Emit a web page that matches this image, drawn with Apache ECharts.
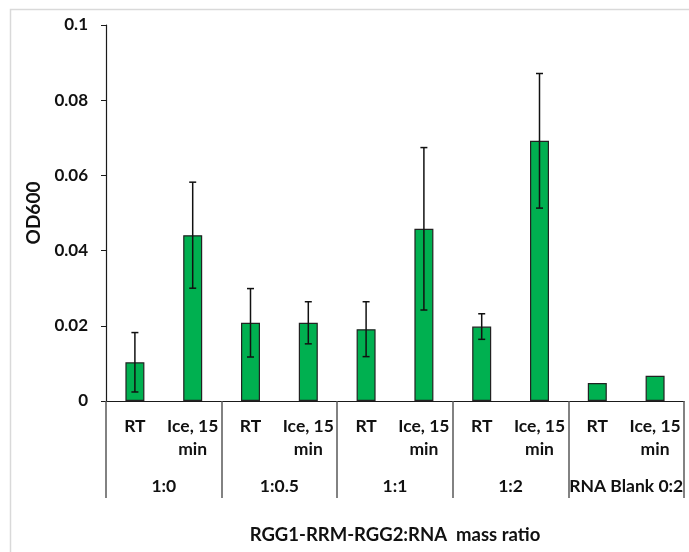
<!DOCTYPE html>
<html>
<head>
<meta charset="utf-8">
<style>
  html, body { margin: 0; padding: 0; background: #fff; }
  #chart { width: 689px; height: 552px; }
</style>
<script src="https://cdn.jsdelivr.net/npm/echarts@6/dist/echarts.min.js"></script>
</head>
<body>
<div id="chart"></div>
<script>
// Condition labels (one per bar) and the ratio groups they belong to
const conditions = ['RT', 'Ice, 15\nmin', 'RT', 'Ice, 15\nmin', 'RT', 'Ice, 15\nmin', 'RT', 'Ice, 15\nmin', 'RT', 'Ice, 15\nmin'];
const groups = ['1:0', '1:0.5', '1:1', '1:2', 'RNA Blank 0:2'];

// Mean OD600 and standard deviation per bar (blank has no error bar)
const meanOD = [0.0103, 0.0441, 0.0208, 0.0208, 0.0191, 0.0458, 0.0198, 0.0692, 0.0048, 0.0067];
const sdOD = [0.0079, 0.0141, 0.0091, 0.0056, 0.0073, 0.0216, 0.0034, 0.0179, null, null];

// Y axis ticks
const yTicks = { min: 0, max: 0.1, step: 0.02 };

const FONT = 'Lato';
const TEXT = '#111111';

const errData = meanOD.map((m, i) => sdOD[i] == null ? [i, null, null] : [i, m - sdOD[i], m + sdOD[i]]);

const chart = echarts.init(document.getElementById('chart'), null, { renderer: 'canvas' });
chart.setOption({
  backgroundColor: '#ffffff',
  animation: false,
  textStyle: { fontFamily: FONT },
  graphic: [{
    type: 'rect',
    left: 8, top: 7,
    shape: { width: 720, height: 600 },
    style: { fill: 'none', stroke: '#d9d9d9', lineWidth: 1.5 },
    silent: true, z: -10
  }],
  grid: { left: 106, right: 5, top: 25, bottom: 151 },
  xAxis: [{
    type: 'category',
    data: conditions,
    position: 'bottom',
    axisLine: { show: true, lineStyle: { color: '#1a1a1a', width: 1.2 } },
    axisTick: { show: false },
    axisLabel: {
      interval: 0, margin: 14, lineHeight: 23,
      fontFamily: FONT, fontWeight: 'bold', fontSize: 17.5, color: TEXT
    },
    name: 'RGG1-RRM-RGG2:RNA  mass ratio',
    nameLocation: 'middle',
    nameGap: 125,
    nameTextStyle: { fontFamily: FONT, fontWeight: 'bold', fontSize: 18.5, color: TEXT }
  }, {
    type: 'category',
    data: groups,
    position: 'bottom',
    axisLine: { show: false },
    axisTick: { show: true, interval: 0, length: 97, lineStyle: { color: '#595959', width: 1.5 } },
    axisLabel: {
      interval: 0, margin: 75, lineHeight: 20,
      fontFamily: FONT, fontWeight: 'bold', fontSize: 17.5, color: TEXT
    }
  }],
  yAxis: {
    type: 'value',
    min: yTicks.min, max: yTicks.max, interval: yTicks.step,
    axisLine: { show: true, lineStyle: { color: '#1a1a1a', width: 1.2 } },
    axisTick: { show: true, inside: false, length: 5, lineStyle: { color: '#1a1a1a' } },
    splitLine: { show: false },
    axisLabel: {
      margin: 18,
      fontFamily: FONT, fontWeight: 'bold', fontSize: 17, color: TEXT,
      formatter: v => String(+v.toFixed(2))
    },
    name: 'OD600',
    nameLocation: 'middle',
    nameGap: 62,
    nameTextStyle: { fontFamily: FONT, fontWeight: 'bold', fontSize: 19, color: TEXT }
  },
  series: [{
    type: 'bar',
    xAxisIndex: 0,
    data: meanOD,
    barWidth: 19,
    itemStyle: { color: '#00b050', borderColor: '#222222', borderWidth: 1.2 }
  }, {
    type: 'custom',
    xAxisIndex: 0,
    data: errData,
    z: 5,
    encode: { x: 0, y: [1, 2] },
    renderItem: function (params, api) {
      const lo = api.value(1), hi = api.value(2);
      if (lo == null || hi == null || isNaN(lo) || isNaN(hi)) return null;
      const idx = api.value(0);
      const pLo = api.coord([idx, lo]);
      const pHi = api.coord([idx, hi]);
      const cap = 3.5;
      const style = { stroke: '#111111', lineWidth: 1.5 };
      return {
        type: 'group',
        children: [
          { type: 'line', shape: { x1: pLo[0], y1: pLo[1], x2: pHi[0], y2: pHi[1] }, style },
          { type: 'line', shape: { x1: pHi[0] - cap, y1: pHi[1], x2: pHi[0] + cap, y2: pHi[1] }, style },
          { type: 'line', shape: { x1: pLo[0] - cap, y1: pLo[1], x2: pLo[0] + cap, y2: pLo[1] }, style }
        ]
      };
    }
  }]
});
</script>
</body>
</html>
